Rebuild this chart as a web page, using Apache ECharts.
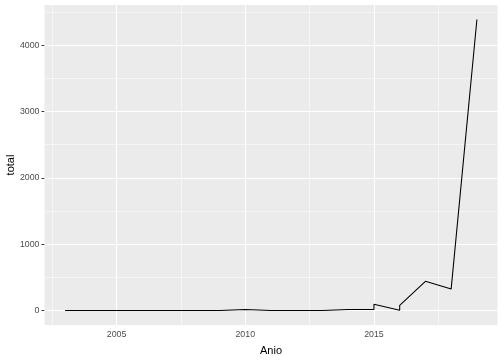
<!DOCTYPE html>
<html>
<head>
<meta charset="utf-8">
<script src="https://cdn.jsdelivr.net/npm/echarts@6/dist/echarts.min.js"></script>
<style>
html,body{margin:0;padding:0;background:#fff;}
#c{width:504px;height:360px;}
</style>
</head>
<body>
<div id="c"></div>
<script>
// Data (years may repeat: several records per year, joined in order)
var years  = [2003, 2004, 2005, 2006, 2007, 2008, 2009, 2009, 2010, 2010, 2011, 2012, 2013, 2013, 2014, 2015, 2015, 2016, 2016, 2017, 2018, 2019];
var totals = [0,    0,    0,    0,    0,    0,    0,    15,   15,   0,    0,    0,    0,    15,   15,   15,   95,   2,    75,   440,  325,  4386];

var xTicks = [2005, 2010, 2015];
var xMinor = [2002.5, 2007.5, 2012.5, 2017.5];
var yTicks = [0, 1000, 2000, 3000, 4000];
var yMinor = [500, 1500, 2500, 3500, 4500];

var points = years.map(function (y, i) { return [y, totals[i]]; });

var font = 'Liberation Sans, Arial, sans-serif';
var gridLines = [];
xTicks.forEach(function (v) { gridLines.push({ xAxis: v, lineStyle: { width: 1.07 } }); });
xMinor.forEach(function (v) { gridLines.push({ xAxis: v, lineStyle: { width: 0.53 } }); });
yTicks.forEach(function (v) { gridLines.push({ yAxis: v, lineStyle: { width: 1.07 } }); });
yMinor.forEach(function (v) { gridLines.push({ yAxis: v, lineStyle: { width: 0.53 } }); });

function plain(v) { return String(v); }

var chart = echarts.init(document.getElementById('c'), null, { renderer: 'canvas' });
chart.setOption({
  animation: false,
  backgroundColor: '#ffffff',
  grid: {
    left: 44.5, right: 6.5, top: 5, bottom: 35,
    containLabel: false, outerBoundsMode: 'none',
    show: true, backgroundColor: '#EBEBEB', borderWidth: 0
  },
  xAxis: {
    type: 'value',
    min: 2002.2, max: 2019.8,
    name: 'Anio', nameLocation: 'middle', nameGap: 20, nameMoveOverlap: false,
    nameTextStyle: { color: '#000', fontSize: 11, fontFamily: font },
    axisLine: { show: false },
    axisTick: { show: true, length: 3, lineStyle: { color: '#333333', width: 1 }, customValues: xTicks },
    axisLabel: { color: '#4D4D4D', fontSize: 8.8, fontFamily: font, margin: 5, customValues: xTicks, formatter: plain },
    splitLine: { show: false }
  },
  yAxis: {
    type: 'value',
    min: -219.3, max: 4605.3,
    name: 'total', nameLocation: 'middle', nameGap: 28, nameRotate: 90, nameMoveOverlap: false,
    nameTextStyle: { color: '#000', fontSize: 11, fontFamily: font },
    axisLine: { show: false },
    axisTick: { show: true, length: 3, lineStyle: { color: '#333333', width: 1 }, customValues: yTicks },
    axisLabel: { color: '#4D4D4D', fontSize: 8.8, fontFamily: font, margin: 5, customValues: yTicks, formatter: plain },
    splitLine: { show: false }
  },
  series: [
    {
      type: 'line', data: [], z: 1, silent: true,
      markLine: {
        silent: true, symbol: 'none', animation: false,
        label: { show: false },
        lineStyle: { color: '#ffffff', type: 'solid' },
        data: gridLines
      }
    },
    {
      type: 'line', data: points, z: 5,
      symbol: 'none', showSymbol: false,
      lineStyle: { color: '#000000', width: 1.07 },
      silent: true
    }
  ]
});
</script>
</body>
</html>
